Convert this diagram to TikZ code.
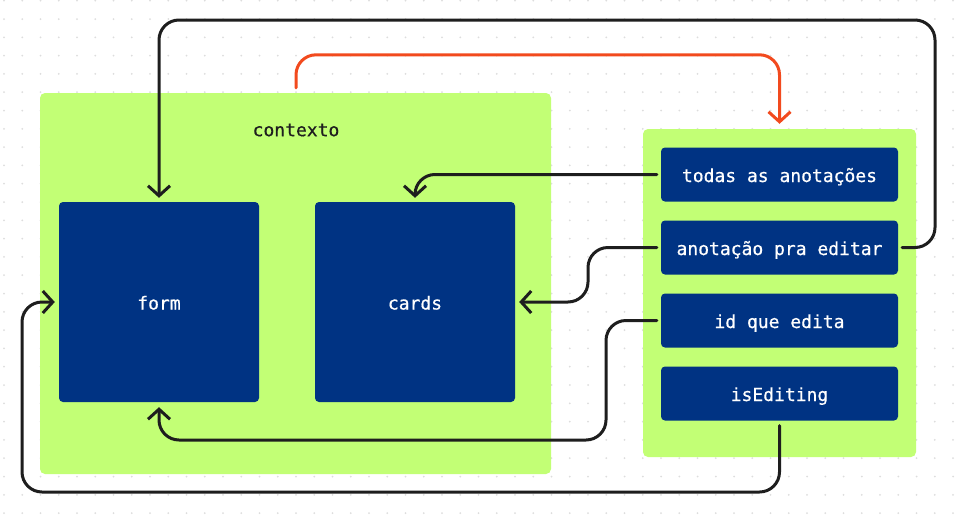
\documentclass[tikz,border=0pt]{standalone}
\usepackage{fontspec}
\newfontfamily\mono[FakeBold=0.6]{DejaVu Sans Mono}
\usetikzlibrary{calc}
\usetikzlibrary{arrows.meta}
\usetikzlibrary{positioning}
\definecolor{verde}{HTML}{C2FF75}
\definecolor{azul}{HTML}{003383}
\definecolor{tinta}{HTML}{1E1E1E}
\definecolor{laranja}{HTML}{F24A1E}
\definecolor{ponto}{HTML}{DDDDDD}

\tikzset{
  grupo/.style={fill=verde, rounded corners=5pt, inner sep=0pt},
  caixa/.style={fill=azul, text=white, rounded corners=4pt, inner sep=0pt,
    font=\mono\fontsize{18}{20}\selectfont, text height=15pt, text depth=0pt},
  estado/.style={caixa, minimum width=237pt, minimum height=54pt},
  liga/.style={draw=tinta, line width=3pt, line cap=round, rounded corners=20pt,
    -{Straight Barb[length=10pt,width=22pt]}},
}

\begin{document}
\begin{tikzpicture}[x=1pt,y=-1pt]
\fill[white] (0,0) rectangle (955,517);
\useasboundingbox (0,0) rectangle (955,517);
% grade de pontos
\foreach \i in {0,...,52}
  \foreach \j in {0,...,28}
    \fill[ponto] ({4+18.25*\i},{0.7+18.3*\j}) circle (1pt);

\node[grupo, minimum width=511pt, minimum height=381pt] (contexto) at (295.5,283.5) {};
\node[text=tinta, font=\mono\fontsize{18}{20}\selectfont] (rotulo) at (296,130) {contexto};
\node[caixa, minimum width=200pt, minimum height=200pt] (form) at (159,302) {form};
\node[caixa, minimum width=200pt, minimum height=200pt] (cards) at (415,302) {cards};

\node[grupo, minimum width=273pt, minimum height=328pt] (estados) at (779.5,293) {};
\node[estado] (todas) at (779.5,174.5) {todas as anota\c{c}\~oes};
\node[estado] (edit) at (779.5,247.5) {anota\c{c}\~ao pra editar};
\node[estado] (id) at (779.5,320.5) {id que edita};
\node[estado] (isedit) at (779.5,393.5) {isEditing};

\coordinate (topo) at (935,20);
\coordinate (dobraA) at (588,0);
\coordinate (dobraB) at (606,440);
\coordinate (fundo) at (22,492);

\draw[liga] ($(edit.east)+(4,0)$) -| (topo) -| ($(form.north)+(0,-4)$);
\draw[liga] ($(todas.west)+(-4,0)$) -| ($(cards.north)+(0,-4)$);
\draw[liga] ($(edit.west)+(-4,0)$) -| (dobraA |- cards.east) -- ($(cards.east)+(4,0)$);
\draw[liga] ($(id.west)+(-4,0)$) -| (dobraB) -| ($(form.south)+(0,5)$);
\draw[liga] ($(isedit.south)+(0,5)$) |- (fundo) |- ($(form.west)+(-4,0)$);
\draw[liga, draw=laranja] ($(contexto.north)+(0.5,-5)$) |- ($(estados.north)+(0,-74)$)
  -- ($(estados.north)+(0,-5)$);
\end{tikzpicture}
\end{document}
